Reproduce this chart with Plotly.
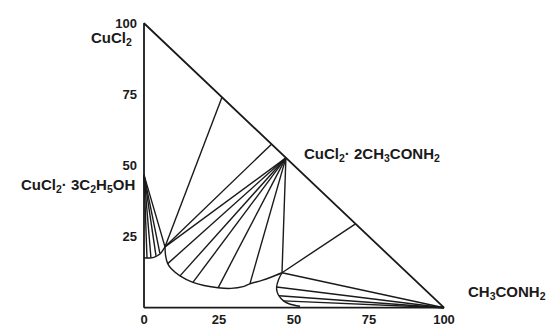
import plotly.graph_objects as go

# ---- data (x = % CH3CONH2, y = % CuCl2) ----
triangle_x = [0, 100, 0, 0]
triangle_y = [0, 0, 100, 0]

# compounds / invariant points
A = (0.0, 46.7)      # CuCl2·3C2H5OH
B = (47.3, 52.7)     # CuCl2·2CH3CONH2
E1 = (7.0, 21.4)
E2 = (46.0, 12.3)
C = (100.0, 0.0)     # CH3CONH2

# solubility branches
left_curve_x = [0.0, 2.0, 3.7, 5.3, 7.0]
left_curve_y = [17.5, 17.5, 17.9, 18.9, 21.4]

mid_curve_x = [7.0, 7.2, 7.9, 9.2, 12.0, 16.3, 20.0, 24.7, 29.0, 33.0, 35.3, 39.3, 42.5, 46.0]
mid_curve_y = [21.4, 18.3, 15.5, 13.6, 11.2, 8.9, 7.8, 7.0, 6.8, 7.4, 8.4, 9.6, 10.8, 12.3]

right_curve_x = [46.0, 44.9, 44.2, 44.4, 45.0, 46.5, 48.5, 52.0]
right_curve_y = [12.3, 10.0, 7.3, 5.5, 4.2, 2.4, 1.3, 0.5]

# tie lines
tie_A_x = [1.0, 2.3, 4.0, 5.3, 7.0]
tie_A_y = [17.5, 17.7, 18.2, 19.1, 21.4]

tie_B_x = [7.0, 7.9, 12.0, 16.3, 24.7, 35.3, 46.0]
tie_B_y = [21.4, 15.5, 11.2, 8.9, 7.0, 8.4, 12.3]

tie_C_x = [46.0, 44.2, 45.0, 46.5]
tie_C_y = [12.3, 7.3, 4.2, 2.4]

hyp_E1_x = [26.0, 42.5]
hyp_E1_y = [74.0, 57.5]
hyp_E2_x = [70.5]
hyp_E2_y = [29.5]

tick_vals = [25, 50, 75, 100]
x_tick_vals = [0, 25, 50, 75, 100]

LINE = dict(color="#1a1a1a", width=1.4)

fig = go.Figure()

def seg(x0, y0, x1, y1):
    fig.add_trace(go.Scatter(x=[x0, x1], y=[y0, y1], mode="lines", line=LINE,
                             hoverinfo="skip", showlegend=False))

fig.add_trace(go.Scatter(x=triangle_x, y=triangle_y, mode="lines",
                         line=dict(color="#1a1a1a", width=1.8), showlegend=False))
for xs, ys in [(left_curve_x, left_curve_y), (mid_curve_x, mid_curve_y),
               (right_curve_x, right_curve_y)]:
    fig.add_trace(go.Scatter(x=xs, y=ys, mode="lines", line_shape="spline",
                             line=LINE, showlegend=False))

for x, y in zip(tie_A_x, tie_A_y):
    seg(A[0], A[1], x, y)
for x, y in zip(tie_B_x, tie_B_y):
    seg(B[0], B[1], x, y)
for x, y in zip(tie_C_x, tie_C_y):
    seg(C[0], C[1], x, y)
for x, y in zip(hyp_E1_x, hyp_E1_y):
    seg(x, y, E1[0], E1[1])
for x, y in zip(hyp_E2_x, hyp_E2_y):
    seg(x, y, E2[0], E2[1])

TICKFONT = dict(family="Liberation Sans, Arial, sans-serif", size=13, color="#1a1a1a")
LABELFONT = dict(family="Liberation Sans, Arial, sans-serif", size=15, color="#1a1a1a")

W, H = 555, 326
xr = [-2, 102]
yr = [-0.8, 101.5]
pxu_x = 3.0
pxu_y = 2.85
l = 144 - (0 - xr[0]) * pxu_x
pw = (xr[1] - xr[0]) * pxu_x
r = W - l - pw
bottom_px = 308 + (0 - yr[0]) * pxu_y
ph = (yr[1] - yr[0]) * pxu_y
t = bottom_px - ph
b = H - bottom_px

labels = [
    ("<b>CuCl<sub>2</sub></b>", -3.3, 94.5, "right"),
    ("<b>CuCl<sub>2</sub>· 3C<sub>2</sub>H<sub>5</sub>OH</b>", -2.5, 42.8, "right"),
    ("<b>CuCl<sub>2</sub>· 2CH<sub>3</sub>CONH<sub>2</sub></b>", 52.5, 53.7, "left"),
    ("<b>CH<sub>3</sub>CONH<sub>2</sub></b>", 107.2, 5.3, "left"),
]
for txt, x, y, anc in labels:
    fig.add_annotation(x=(x - xr[0]) / (xr[1] - xr[0]), y=(y - yr[0]) / (yr[1] - yr[0]),
                       xref="paper", yref="paper", text=txt, showarrow=False,
                       xanchor=anc, yanchor="middle", font=LABELFONT)

fig.update_layout(
    width=W, height=H,
    margin=dict(l=l, r=r, t=t, b=b, pad=0, autoexpand=False),
    plot_bgcolor="white", paper_bgcolor="white",
    showlegend=False,
    xaxis=dict(range=xr, showgrid=False, zeroline=False, showline=False,
               tickvals=x_tick_vals, ticktext=[f"<b>{v}</b>" for v in x_tick_vals],
               tickfont=TICKFONT, ticks="", fixedrange=True, automargin=False),
    yaxis=dict(range=yr, showgrid=False, zeroline=False, showline=False,
               tickvals=tick_vals, ticktext=[f"<b>{v}</b>" for v in tick_vals],
               tickfont=TICKFONT, ticks="", fixedrange=True, automargin=False),
)

fig.write_html("out.html", config={"displayModeBar": False},
               post_script="document.body.style.margin='0';document.body.style.overflow='hidden';")
